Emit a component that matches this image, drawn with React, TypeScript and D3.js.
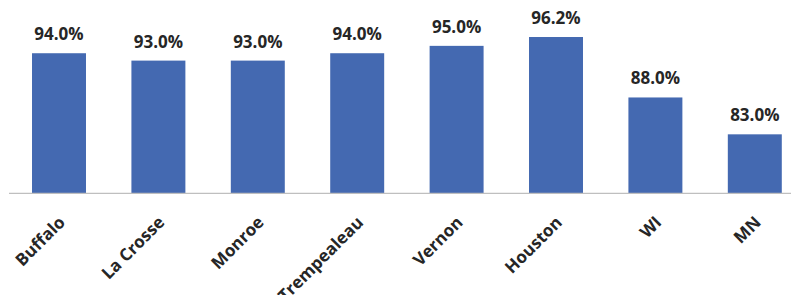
import React from "react";
import * as d3 from "d3";

const categories = ["Buffalo", "La Crosse", "Monroe", "Trempealeau", "Vernon", "Houston", "WI", "MN"];
const values = [94.0, 93.0, 93.0, 94.0, 95.0, 96.2, 88.0, 83.0];
const yDomain = [75, 100];

const W = 791;
const H = 295;

export default function App() {
  const x = d3
    .scaleBand<string>()
    .domain(categories)
    .range([9.3, 804.5])
    .paddingInner(0.457)
    .paddingOuter(0.2285);
  const y = d3.scaleLinear().domain(yDomain).range([193.3, 9]);
  const base = y(yDomain[0]);
  const font = "'Open Sans', Calibri, sans-serif";
  return (
    <svg
      width={W}
      height={H}
      style={{ position: "absolute", left: 0, top: 0, background: "#fff" }}
    >
      {categories.map((c, i) => (
        <rect
          key={c}
          x={x(c)}
          y={y(values[i])}
          width={x.bandwidth()}
          height={base - y(values[i])}
          fill="#4469B1"
        />
      ))}
      <line x1={9} x2={W} y1={base} y2={base} stroke="#BFBFBF" strokeWidth={1.2} />
      {categories.map((c, i) => (
        <text
          key={"v" + c}
          x={(x(c) as number) + x.bandwidth() / 2}
          y={y(values[i]) - 13}
          textAnchor="middle"
          fontFamily={font}
          fontWeight="bold"
          fontSize={17}
          fill="#262626"
        >
          {d3.format(".1f")(values[i]) + "%"}
        </text>
      ))}
      {categories.map((c) => {
        const cx = (x(c) as number) + x.bandwidth() / 2 - 3;
        const cy = base + 20;
        return (
          <text
            key={"l" + c}
            transform={`translate(${cx},${cy}) rotate(-45)`}
            textAnchor="end"
            dominantBaseline="hanging"
            fontFamily={font}
            fontWeight="bold"
            fontSize={17}
            fill="#262626"
          >
            {c}
          </text>
        );
      })}
    </svg>
  );
}
